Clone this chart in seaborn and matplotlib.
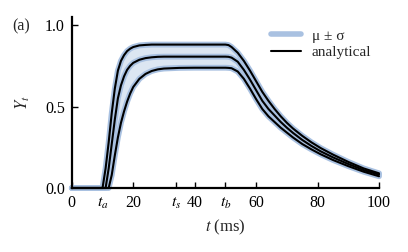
import matplotlib
matplotlib.use('Agg')
import matplotlib.pyplot as plt
import seaborn as sns
import pandas as pd
from matplotlib.lines import Line2D

# time grid (ms) and the three curves
t = [0, 10, 11, 12, 13, 14, 15, 16, 17, 18, 19, 20, 22, 24, 26, 28, 30, 35, 40, 45, 50,
     51, 52, 54, 56, 58, 60, 62, 64, 66, 68, 70, 72, 75, 78, 81, 85, 90, 95, 100]
upper = [0, 0, 0.12, 0.28, 0.46, 0.61, 0.72, 0.78, 0.815, 0.84, 0.855, 0.865, 0.875, 0.878, 0.88, 0.88,
         0.88, 0.88, 0.88, 0.88, 0.88,
         0.877, 0.865, 0.83, 0.78, 0.72, 0.655, 0.59, 0.535, 0.485, 0.44, 0.40, 0.365, 0.32, 0.28, 0.245,
         0.205, 0.16, 0.12, 0.09]
middle = [0, 0, 0, 0.12, 0.27, 0.42, 0.55, 0.63, 0.685, 0.725, 0.75, 0.768, 0.787, 0.797, 0.802, 0.805,
          0.806, 0.806, 0.806, 0.806, 0.806,
          0.805, 0.80, 0.775, 0.725, 0.665, 0.60, 0.535, 0.485, 0.445, 0.405, 0.37, 0.338, 0.295, 0.258, 0.225,
          0.188, 0.147, 0.11, 0.082]
lower = [0, 0, 0, 0, 0.08, 0.2, 0.31, 0.4, 0.47, 0.53, 0.58, 0.62, 0.67, 0.70, 0.718, 0.728,
         0.733, 0.737, 0.738, 0.738, 0.738,
         0.737, 0.735, 0.715, 0.67, 0.61, 0.545, 0.485, 0.44, 0.405, 0.37, 0.34, 0.31, 0.27, 0.237, 0.207,
         0.172, 0.134, 0.10, 0.072]

xticks = [0, 10, 20, 34, 40, 50, 60, 80, 100]
xticklabels = ['0', '$t_a$', '20', '$t_s$', '40', '$t_b$', '60', '80', '100']
yticks = [0.0, 0.5, 1.0]

df = pd.DataFrame({'t': t, 'upper': upper, 'middle': middle, 'lower': lower})

sns.set_theme(style='ticks')
plt.rcParams['font.family'] = ['Liberation Serif', 'DejaVu Serif']
plt.rcParams['mathtext.fontset'] = 'stix'

band_fill = '#dce6f2'
band_edge = '#a9c1e1'

fig = plt.figure(figsize=(4.08, 2.52), dpi=100)
ax = fig.add_axes([0.176, 0.254, 0.753, 0.679])

ax.fill_between(df['t'], df['lower'], df['upper'], color=band_fill, lw=0, zorder=1)
for col in ['upper', 'middle', 'lower']:
    sns.lineplot(data=df, x='t', y=col, ax=ax, color=band_edge, lw=4.2, zorder=2, clip_on=False)
for col in ['upper', 'middle', 'lower']:
    sns.lineplot(data=df, x='t', y=col, ax=ax, color='black', lw=1.5, zorder=3, clip_on=False)

ax.set_xlim(0, 100)
ax.set_ylim(0, 1.05)
ax.set_xticks(xticks)
ax.set_xticklabels(xticklabels)
ax.set_yticks(yticks)
ax.set_yticklabels(['0.0', '0.5', '1.0'])
ax.tick_params(direction='in', length=4, width=1, labelsize=11.5, colors='black', pad=5)
for s in ['top', 'right']:
    ax.spines[s].set_visible(False)
for s in ['left', 'bottom']:
    ax.spines[s].set_linewidth(1.6)
    ax.spines[s].set_color('black')
    ax.spines[s].set_zorder(4)

ax.set_xlabel('$t$ (ms)', fontsize=12, labelpad=5)
ax.set_ylabel('$Y_t$', fontsize=12, labelpad=9)

handles = [Line2D([0], [0], color=band_edge, lw=4, label='μ ± σ'),
           Line2D([0], [0], color='black', lw=1.5, label='analytical')]
ax.legend(handles=handles, loc='upper right', bbox_to_anchor=(0.975, 0.93), frameon=False,
          fontsize=11, handlelength=2.0, handletextpad=0.7, borderaxespad=0, borderpad=0,
          labelspacing=0.2)

fig.text(0.03, 0.88, '(a)', fontsize=11.5)

fig.savefig('out.png', dpi=100)
